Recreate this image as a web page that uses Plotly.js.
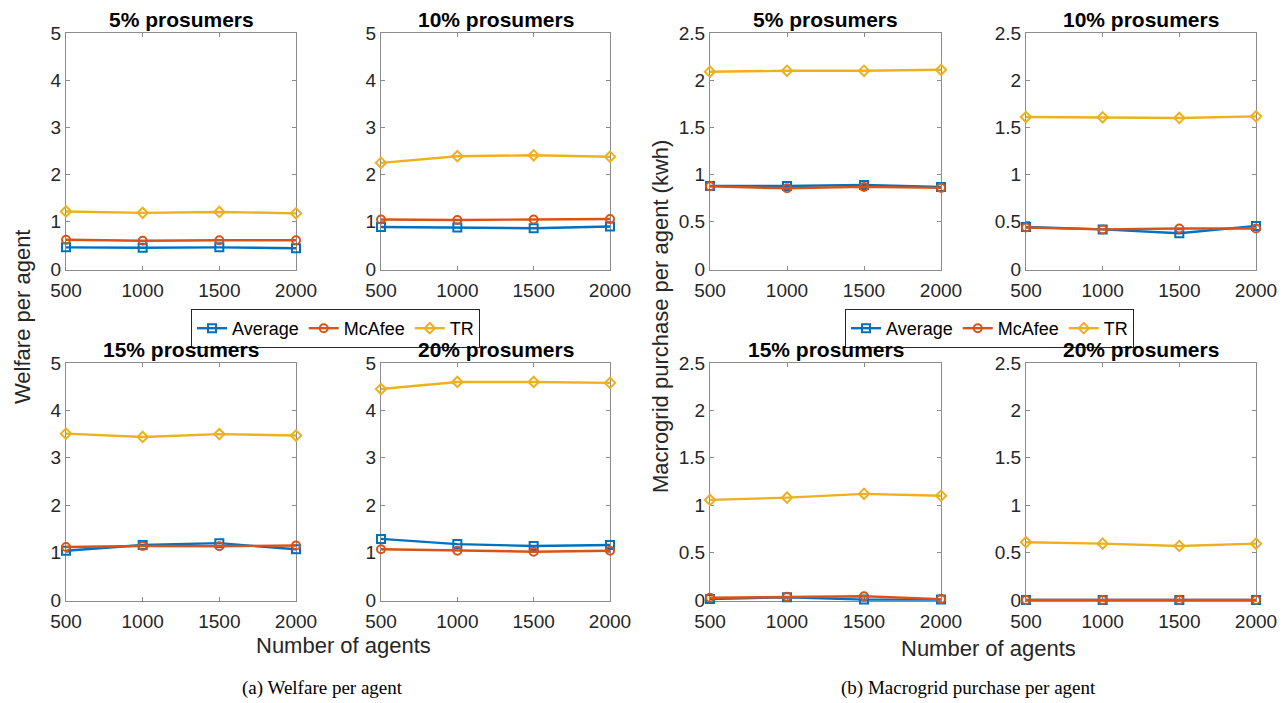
<!DOCTYPE html>
<html>
<head>
<meta charset="utf-8">
<script src="https://cdn.plot.ly/plotly-3.0.1.min.js"></script>
<style>html,body{margin:0;padding:0;background:#fff;}#chart{width:1286px;height:703px;}</style>
</head>
<body>
<div id="chart"></div>
<script>
// ---- Data ----
const agents = [500, 1000, 1500, 2000];
const seriesNames = ["Average", "McAfee", "TR"];
const panelTitles = ["5% prosumers", "10% prosumers", "15% prosumers", "20% prosumers"];

// Welfare per agent
const welfareAverage = {
  p5:  [0.46, 0.45, 0.46, 0.44],
  p10: [0.89, 0.88, 0.865, 0.90],
  p15: [1.04, 1.16, 1.20, 1.07],
  p20: [1.29, 1.18, 1.14, 1.16]
};
const welfareMcAfee = {
  p5:  [0.62, 0.60, 0.61, 0.61],
  p10: [1.05, 1.04, 1.05, 1.06],
  p15: [1.12, 1.14, 1.135, 1.15],
  p20: [1.07, 1.04, 1.02, 1.04]
};
const welfareTR = {
  p5:  [1.22, 1.19, 1.21, 1.18],
  p10: [2.25, 2.39, 2.41, 2.38],
  p15: [3.51, 3.44, 3.50, 3.47],
  p20: [4.45, 4.60, 4.60, 4.58]
};

// Macrogrid purchase per agent (kwh)
const gridAverage = {
  p5:  [0.88, 0.88, 0.89, 0.87],
  p10: [0.446, 0.42, 0.38, 0.457],
  p15: [0.01, 0.03, 0.005, 0.005],
  p20: [0.0, 0.0, 0.0, 0.0]
};
const gridMcAfee = {
  p5:  [0.876, 0.855, 0.87, 0.86],
  p10: [0.44, 0.42, 0.43, 0.43],
  p15: [0.025, 0.035, 0.04, 0.01],
  p20: [0.0, 0.0, 0.0, 0.0]
};
const gridTR = {
  p5:  [2.09, 2.10, 2.10, 2.11],
  p10: [1.61, 1.607, 1.60, 1.617],
  p15: [1.056, 1.08, 1.12, 1.10],
  p20: [0.61, 0.595, 0.57, 0.595]
};

const xTicks = [500, 1000, 1500, 2000];
const welfareTicks = [0, 1, 2, 3, 4, 5];
const gridTicks = [0, 0.5, 1, 1.5, 2, 2.5];

// ---- Styles ----
const colors = ["#0072BD", "#D95319", "#EDB120"];
const symbols = ["square-open", "circle-open", "diamond-open"];
const W = 1286, H = 703;
const px = (a, b) => [a / W, b / W];
const py = (top, bot) => [1 - bot / H, 1 - top / H];
const xDomains = [px(66, 296), px(381, 610), px(710, 941), px(1026, 1256)];
const yTop = py(33, 270), yBot = py(363, 601);

const panels = [
  {g: "w", k: "p5",  xd: 0, yd: yTop, t: 0},
  {g: "w", k: "p10", xd: 1, yd: yTop, t: 1},
  {g: "m", k: "p5",  xd: 2, yd: yTop, t: 0},
  {g: "m", k: "p10", xd: 3, yd: yTop, t: 1},
  {g: "w", k: "p15", xd: 0, yd: yBot, t: 2},
  {g: "w", k: "p20", xd: 1, yd: yBot, t: 3},
  {g: "m", k: "p15", xd: 2, yd: yBot, t: 2},
  {g: "m", k: "p20", xd: 3, yd: yBot, t: 3}
];

const traces = [];
const layout = {
  width: W, height: H,
  margin: {l: 0, r: 0, t: 0, b: 0},
  paper_bgcolor: "#fff", plot_bgcolor: "#fff",
  font: {family: "Liberation Sans, Arial, sans-serif", color: "#262626"},
  showlegend: true,
  annotations: []
};

const axisLine = "#8c8c8c";
const tickFont = {size: 19, color: "#262626"};
panels.forEach((p, i) => {
  const n = i + 1;
  const xa = "x" + (n === 1 ? "" : n), ya = "y" + (n === 1 ? "" : n);
  const data = p.g === "w"
    ? [welfareAverage[p.k], welfareMcAfee[p.k], welfareTR[p.k]]
    : [gridAverage[p.k], gridMcAfee[p.k], gridTR[p.k]];
  const showLeg = (i === 0 || i === 2);
  data.forEach((vals, s) => {
    traces.push({
      x: agents, y: vals, xaxis: xa, yaxis: ya,
      type: "scatter", mode: "lines+markers",
      name: seriesNames[s],
      legend: p.g === "w" ? "legend" : "legend2",
      showlegend: showLeg,
      line: {color: colors[s], width: 2.4},
      marker: {symbol: symbols[s], size: 8, color: colors[s], line: {color: colors[s], width: 2}},
      cliponaxis: false
    });
  });
  const xk = "xaxis" + (n === 1 ? "" : n), yk = "yaxis" + (n === 1 ? "" : n);
  layout[xk] = {
    domain: xDomains[p.xd], anchor: ya, range: [500, 2000],
    tickvals: xTicks, ticktext: xTicks.map(String),
    ticks: "inside", ticklen: 4, tickcolor: axisLine, tickwidth: 1,
    showline: true, linecolor: axisLine, linewidth: 1, mirror: "ticks",
    showgrid: false, zeroline: false, layer: "below traces",
    ticklabelstandoff: 3,
    tickfont: tickFont, fixedrange: true
  };
  const ticks = p.g === "w" ? welfareTicks : gridTicks;
  layout[yk] = {
    domain: p.yd, anchor: xa, range: p.g === "w" ? [-0.02, 5] : [-0.01, 2.5],
    tickvals: ticks, ticktext: ticks.map(String),
    ticks: "inside", ticklen: 4, tickcolor: axisLine, tickwidth: 1,
    showline: true, linecolor: axisLine, linewidth: 1, mirror: "ticks",
    showgrid: false, zeroline: false, layer: "below traces",
    tickfont: tickFont, fixedrange: true
  };
  const xd = xDomains[p.xd];
  layout.annotations.push({
    text: "<b>" + panelTitles[p.t] + "</b>", xref: "paper", yref: "paper",
    x: (xd[0] + xd[1]) / 2, y: p.yd[1], xanchor: "center", yanchor: "bottom",
    yshift: 0, showarrow: false, font: {size: 21, color: "#000"}
  });
});

const legendBase = {
  orientation: "h", y: 1 - 309 / H, xanchor: "left", yanchor: "top",
  bordercolor: "#262626", borderwidth: 1, bgcolor: "#fff",
  font: {size: 18, color: "#000"}, itemwidth: 30, tracegroupgap: 0
};
layout.legend = Object.assign({}, legendBase, {x: 191 / W});
layout.legend2 = Object.assign({}, legendBase, {x: 845 / W});

const labelFont = {size: 22, color: "#262626"};
const capFont = {family: "Liberation Serif, Times New Roman, serif", size: 19, color: "#000"};
layout.annotations.push(
  {text: "Welfare per agent", xref: "paper", yref: "paper", x: 22 / W, y: 1 - 317 / H,
   textangle: -90, showarrow: false, font: labelFont, xanchor: "center", yanchor: "middle"},
  {text: "Macrogrid purchase per agent (kwh)", xref: "paper", yref: "paper", x: 660 / W, y: 1 - 317 / H,
   textangle: -90, showarrow: false, font: labelFont, xanchor: "center", yanchor: "middle"},
  {text: "Number of agents", xref: "paper", yref: "paper", x: 343 / W, y: 1 - 645 / H,
   showarrow: false, font: labelFont, xanchor: "center", yanchor: "middle"},
  {text: "Number of agents", xref: "paper", yref: "paper", x: 988 / W, y: 1 - 648 / H,
   showarrow: false, font: labelFont, xanchor: "center", yanchor: "middle"},
  {text: "(a) Welfare per agent", xref: "paper", yref: "paper", x: 322 / W, y: 1 - 688 / H,
   showarrow: false, font: capFont, xanchor: "center", yanchor: "middle"},
  {text: "(b) Macrogrid purchase per agent", xref: "paper", yref: "paper", x: 968 / W, y: 1 - 688 / H,
   showarrow: false, font: capFont, xanchor: "center", yanchor: "middle"}
);

Plotly.newPlot("chart", traces, layout, {displayModeBar: false, staticPlot: true});
</script>
</body>
</html>
